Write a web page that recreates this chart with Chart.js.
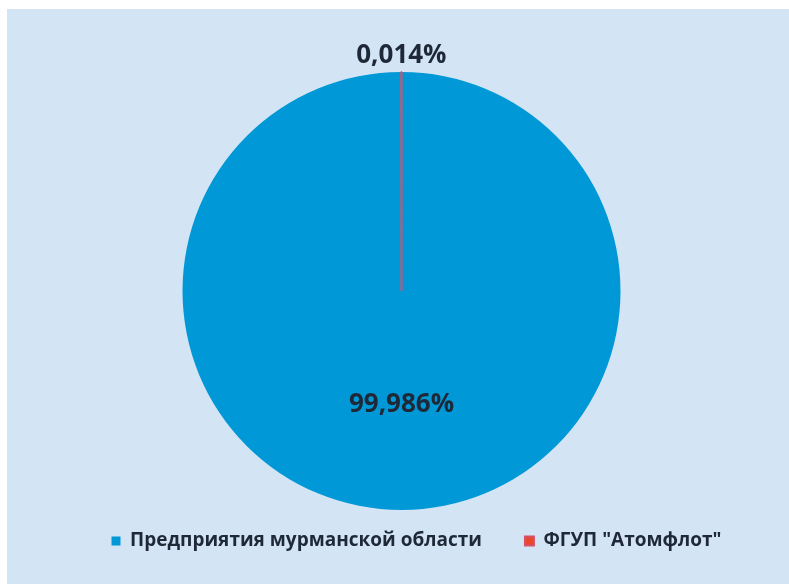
<!DOCTYPE html>
<html>
<head>
<meta charset="utf-8">
<script src="https://cdn.jsdelivr.net/npm/chart.js@4"></script>
<style>
  html, body { margin: 0; padding: 0; background: #ffffff; }
  #wrap {
    position: absolute; left: 7px; top: 9px;
    width: 782px; height: 575px;
    background: #d3e5f5;
  }
  #chart { display: block; }
</style>
</head>
<body>
<div id="wrap"><canvas id="chart" width="782" height="575"></canvas></div>
<script>
const categories = ['Предприятия мурманской области', 'ФГУП "Атомфлот"'];
const shares = [99.986, 0.014];
const shareLabels = ['99,986%', '0,014%'];
const sliceColors = ['#0098d6', '#e9472b'];

const textColor = '#1e2836';

// percent labels: inside for the big slice, just outside for the tiny one
const sliceLabels = {
    id: 'sliceLabels',
    afterDatasetsDraw(chart) {
        const ctx = chart.ctx;
        const arcs = chart.getDatasetMeta(0).data;
        ctx.save();
        ctx.fillStyle = textColor;
        ctx.font = 'bold 26px "Open Sans"';
        ctx.textAlign = 'center';
        ctx.textBaseline = 'middle';
        arcs.forEach((arc, i) => {
            const p = arc.getProps(['x', 'y', 'startAngle', 'endAngle', 'outerRadius'], true);
            const mid = (p.startAngle + p.endAngle) / 2;
            const dist = i === 0 ? p.outerRadius * 0.52 : p.outerRadius + 16;
            ctx.fillText(shareLabels[i], p.x + Math.cos(mid) * dist, p.y + Math.sin(mid) * dist);
        });
        ctx.restore();
    }
};

// legend sits a bit right of the pie centre in the original
const legendShift = {
    id: 'legendShift',
    afterLayout(chart) {
        chart.legend.left += 15;
        chart.legend.right += 15;
    }
};

new Chart(document.getElementById('chart'), {
    type: 'pie',
    data: {
        labels: categories,
        datasets: [{
            data: shares,
            backgroundColor: sliceColors,
            borderColor: ['#0098d6', '#d5506a'],
            borderWidth: [0, 2],
            hoverOffset: 0
        }]
    },
    options: {
        responsive: false,
        animation: false,
        radius: 219,
        layout: {
            padding: { left: 7, right: 0, top: 84.5, bottom: 23.5 }
        },
        plugins: {
            tooltip: { enabled: false },
            legend: {
                position: 'bottom',
                labels: {
                    boxWidth: 9,
                    boxHeight: 9,
                    padding: 43,
                    color: textColor,
                    font: { family: '"Open Sans"', size: 19, weight: 'bold' }
                }
            }
        }
    },
    plugins: [sliceLabels, legendShift]
});
</script>
</body>
</html>
